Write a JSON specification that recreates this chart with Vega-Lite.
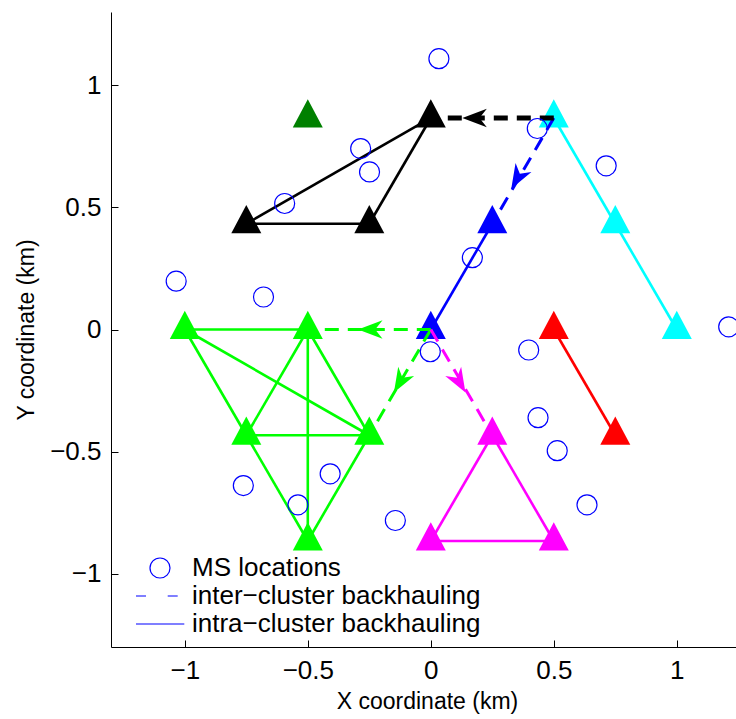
{
  "$schema": "https://vega.github.io/schema/vega-lite/v6.json",
  "width": 625,
  "height": 635,
  "autosize": {"type": "none"},
  "padding": {"left": 111, "top": 12, "right": 0, "bottom": 72},
  "background": "white",
  "config": {
    "view": {"stroke": null},
    "font": "Liberation Sans",
    "axis": {
      "grid": false,
      "domainColor": "#000000",
      "domainWidth": 1,
      "tickColor": "#000000",
      "tickSize": -7,
      "tickWidth": 1,
      "labelFont": "Liberation Sans",
      "labelFontSize": 26,
      "labelColor": "#000000",
      "labelPadding": 17,
      "titleFont": "Liberation Sans",
      "titleFontSize": 23,
      "titleFontWeight": "normal",
      "titleColor": "#000000"
    }
  },
  "datasets": {
    "bs": [
      {"cl": "1", "x": -1, "y": 0}, {"cl": "1", "x": -0.5, "y": 0}, {"cl": "1", "x": -0.75, "y": -0.433}, {"cl": "1", "x": -0.25, "y": -0.433}, {"cl": "1", "x": -0.5, "y": -0.866},
      {"cl": "2", "x": -0.5, "y": 0.866},
      {"cl": "3", "x": 0, "y": 0.866}, {"cl": "3", "x": -0.25, "y": 0.433}, {"cl": "3", "x": -0.75, "y": 0.433},
      {"cl": "4", "x": 0.5, "y": 0.866}, {"cl": "4", "x": 0.75, "y": 0.433}, {"cl": "4", "x": 1, "y": 0},
      {"cl": "5", "x": 0.25, "y": 0.433}, {"cl": "5", "x": 0, "y": 0},
      {"cl": "6", "x": 0.5, "y": 0}, {"cl": "6", "x": 0.75, "y": -0.433},
      {"cl": "7", "x": 0.25, "y": -0.433}, {"cl": "7", "x": 0, "y": -0.866}, {"cl": "7", "x": 0.5, "y": -0.866}
    ],
    "seg": [
      {"cl": "1", "type": "intra", "x": -1, "y": 0, "x2": -0.5, "y2": 0},
      {"cl": "1", "type": "intra", "x": -1, "y": 0, "x2": -0.75, "y2": -0.433},
      {"cl": "1", "type": "intra", "x": -1, "y": 0, "x2": -0.25, "y2": -0.433},
      {"cl": "1", "type": "intra", "x": -0.5, "y": 0, "x2": -0.75, "y2": -0.433},
      {"cl": "1", "type": "intra", "x": -0.5, "y": 0, "x2": -0.25, "y2": -0.433},
      {"cl": "1", "type": "intra", "x": -0.5, "y": 0, "x2": -0.5, "y2": -0.866},
      {"cl": "1", "type": "intra", "x": -0.75, "y": -0.433, "x2": -0.25, "y2": -0.433},
      {"cl": "1", "type": "intra", "x": -0.75, "y": -0.433, "x2": -0.5, "y2": -0.866},
      {"cl": "1", "type": "intra", "x": -0.25, "y": -0.433, "x2": -0.5, "y2": -0.866},
      {"cl": "3", "type": "intra", "x": 0, "y": 0.866, "x2": -0.75, "y2": 0.433},
      {"cl": "3", "type": "intra", "x": -0.75, "y": 0.433, "x2": -0.25, "y2": 0.433},
      {"cl": "3", "type": "intra", "x": -0.25, "y": 0.433, "x2": 0, "y2": 0.866},
      {"cl": "4", "type": "intra", "x": 0.5, "y": 0.866, "x2": 0.75, "y2": 0.433},
      {"cl": "4", "type": "intra", "x": 0.75, "y": 0.433, "x2": 1, "y2": 0},
      {"cl": "5", "type": "intra", "x": 0.25, "y": 0.433, "x2": 0, "y2": 0},
      {"cl": "6", "type": "intra", "x": 0.5, "y": 0, "x2": 0.75, "y2": -0.433},
      {"cl": "7", "type": "intra", "x": 0.25, "y": -0.433, "x2": 0, "y2": -0.866},
      {"cl": "7", "type": "intra", "x": 0, "y": -0.866, "x2": 0.5, "y2": -0.866},
      {"cl": "7", "type": "intra", "x": 0.5, "y": -0.866, "x2": 0.25, "y2": -0.433},
      {"cl": "3", "type": "inter", "x": 0.5, "y": 0.866, "x2": 0, "y2": 0.866},
      {"cl": "5", "type": "inter", "x": 0.5, "y": 0.866, "x2": 0.25, "y2": 0.433},
      {"cl": "1", "type": "inter", "x": 0, "y": 0, "x2": -0.5, "y2": 0},
      {"cl": "1", "type": "inter", "x": 0, "y": 0, "x2": -0.25, "y2": -0.433},
      {"cl": "7", "type": "inter", "x": 0, "y": 0, "x2": 0.25, "y2": -0.433}
    ],
    "arrows": [
      {"cl": "3", "x": 0.178, "y": 0.866, "ang": 180},
      {"cl": "5", "x": 0.352, "y": 0.62, "ang": 120},
      {"cl": "1", "x": -0.246, "y": 0, "ang": 180},
      {"cl": "1", "x": -0.125, "y": -0.215, "ang": 120},
      {"cl": "7", "x": 0.116, "y": -0.215, "ang": 60}
    ],
    "ms": [
      {"kind": "MS locations", "x": 0.033, "y": 1.109},
      {"kind": "MS locations", "x": -0.285, "y": 0.741},
      {"kind": "MS locations", "x": -0.249, "y": 0.645},
      {"kind": "MS locations", "x": -0.594, "y": 0.516},
      {"kind": "MS locations", "x": 0.433, "y": 0.823},
      {"kind": "MS locations", "x": 0.713, "y": 0.67},
      {"kind": "MS locations", "x": 0.169, "y": 0.294},
      {"kind": "MS locations", "x": 1.211, "y": 0.011},
      {"kind": "MS locations", "x": 0.398, "y": -0.084},
      {"kind": "MS locations", "x": 0.436, "y": -0.361},
      {"kind": "MS locations", "x": 0.514, "y": -0.496},
      {"kind": "MS locations", "x": 0.635, "y": -0.718},
      {"kind": "MS locations", "x": -0.144, "y": -0.782},
      {"kind": "MS locations", "x": -0.68, "y": 0.133},
      {"kind": "MS locations", "x": -0.762, "y": -0.639},
      {"kind": "MS locations", "x": -0.409, "y": -0.591},
      {"kind": "MS locations", "x": -0.54, "y": -0.718},
      {"kind": "MS locations", "x": -0.002, "y": -0.091},
      {"kind": "MS locations", "x": -1.035, "y": 0.198}
    ]
  },
  "encoding": {
    "x": {
      "field": "x",
      "type": "quantitative",
      "scale": {"domain": [-1.3, 1.2407], "nice": false, "zero": false},
      "axis": {"values": [-1, -0.5, 0, 0.5, 1], "format": "~g", "title": "X coordinate (km)", "titleX": 316, "titleY": 61, "titleBaseline": "alphabetic", "titleAnchor": "middle", "titleAlign": "center"}
    },
    "y": {
      "field": "y",
      "type": "quantitative",
      "scale": {"domain": [-1.3, 1.3], "nice": false, "zero": false},
      "axis": {"values": [-1, -0.5, 0, 0.5, 1], "format": "~g", "title": "Y coordinate (km)", "titleX": -78, "titleY": 317.5, "titleAngle": -90, "titleBaseline": "alphabetic", "titleAlign": "center"}
    }
  },
  "layer": [
    {
      "data": {"name": "bs"},
      "mark": {"type": "point", "shape": "M0,-1.25L1,0.63L-1,0.63Z", "filled": true, "size": 900, "opacity": 1, "strokeWidth": 0},
      "encoding": {
        "color": {"field": "cl", "type": "nominal", "legend": null, "scale": {"domain": ["1", "2", "3", "4", "5", "6", "7"], "range": ["#00ff00", "#008000", "#000000", "#00ffff", "#0000ff", "#ff0000", "#ff00ff"]}}
      }
    },
    {
      "data": {"name": "seg"},
      "transform": [{"filter": "datum.type === 'intra'"}],
      "mark": {"type": "rule", "strokeWidth": 2.6},
      "encoding": {
        "x2": {"field": "x2"},
        "y2": {"field": "y2"},
        "color": {"field": "cl", "type": "nominal", "legend": null}
      }
    },
    {
      "data": {"name": "seg"},
      "transform": [{"filter": "datum.type === 'inter' && datum.cl !== '3'"}],
      "mark": {"type": "rule", "strokeWidth": 3, "strokeDash": [14, 9]},
      "encoding": {
        "x2": {"field": "x2"},
        "y2": {"field": "y2"},
        "color": {"field": "cl", "type": "nominal", "legend": null}
      }
    },
    {
      "data": {"name": "seg"},
      "transform": [{"filter": "datum.type === 'inter' && datum.cl === '3'"}],
      "mark": {"type": "rule", "strokeWidth": 5, "strokeDash": [14, 9]},
      "encoding": {
        "x2": {"field": "x2"},
        "y2": {"field": "y2"},
        "color": {"field": "cl", "type": "nominal", "legend": null}
      }
    },
    {
      "data": {"name": "arrows"},
      "mark": {"type": "point", "shape": "M1,0L-1,-0.75L-0.4,0L-1,0.75Z", "filled": true, "size": 600, "opacity": 1, "strokeWidth": 0},
      "encoding": {
        "angle": {"field": "ang", "type": "quantitative", "scale": null},
        "color": {"field": "cl", "type": "nominal", "legend": null}
      }
    },
    {
      "data": {"name": "ms"},
      "mark": {"type": "point", "filled": false, "size": 400, "color": "#0000ff", "strokeWidth": 1.2, "opacity": 1, "clip": true},
      "encoding": {
        "shape": {
          "field": "kind",
          "type": "nominal",
          "scale": {
            "domain": ["MS locations", "inter−cluster backhauling", "intra−cluster backhauling"],
            "range": ["circle", "M-2.4,0L-1.4,0M0.77,0L1.77,0", "M-2.4,0L2.43,0"]
          },
          "legend": {
            "title": null,
            "orient": "none",
            "legendX": 36,
            "legendY": 543,
            "padding": 0,
            "labelFont": "Liberation Sans",
            "labelFontSize": 26,
            "labelColor": "#000000",
            "labelLimit": 0,
            "labelOffset": 19,
            "symbolSize": 400,
            "symbolStrokeColor": "#0000ff",
            "symbolFillColor": "transparent",
            "symbolStrokeWidth": 1.2,
            "rowPadding": 2
          }
        }
      }
    }
  ]
}
